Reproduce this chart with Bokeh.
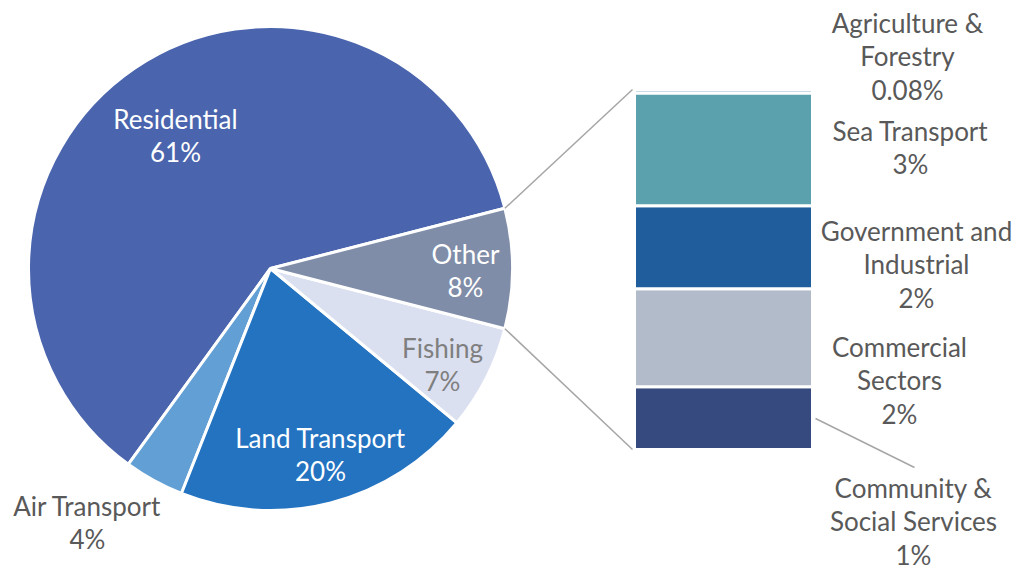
import numpy as np
from bokeh.plotting import figure
from bokeh.models import Range1d
from bokeh.core.properties import value
from bokeh.embed import file_html
from bokeh.resources import INLINE

# ---------------- data ----------------
pie_names = ["Residential", "Air Transport", "Land Transport", "Fishing", "Other"]
pie_values = [61, 4, 20, 7, 8]
pie_labels = ["61%", "4%", "20%", "7%", "8%"]
pie_colors = ["#4a65ae", "#619fd4", "#2473c1", "#dbe0f0", "#7f8da8"]

bar_names = ["Community &\nSocial Services", "Commercial\nSectors", "Government and\nIndustrial",
             "Sea Transport", "Agriculture &\nForestry"]
bar_values = [1.41, 2.20, 1.86, 2.53, 0.08]
bar_labels = ["1%", "2%", "2%", "3%", "0.08%"]
bar_colors = ["#364a7f", "#b2bbca", "#1f5d9c", "#5aa1ad", "#9fb6c9"]

# ---------------- layout ----------------
W, H = 1016, 570
def S(sx, sy):
    # reference screen pixel -> data coordinate
    return sx, H - sy

CX, CY = S(270, 268)
R = 242
BAR_X0, BAR_X1 = S(634, 0)[0], S(812, 0)[0]
BAR_BOTTOM = S(0, 449)[1]
BAR_TOP = S(0, 89)[1]

FONT = value("Lato")
FS = "26px"
LINE = 33.5
DY = -2

p = figure(width=W, height=H, x_range=Range1d(0, W), y_range=Range1d(0, H),
           output_backend="svg", toolbar_location=None, min_border=0)
p.axis.visible = False
p.grid.visible = False
p.outline_line_color = None
p.background_fill_color = "white"

# ---------------- pie ----------------
vals = np.array(pie_values, dtype=float)
fr = vals / vals.sum()
start0 = fr[-1] * np.pi  # "Other" centered on 0 rad
ends = start0 + np.cumsum(fr) * 2 * np.pi
starts = ends - fr * 2 * np.pi
p.wedge(x=CX, y=CY, radius=R, start_angle=starts, end_angle=ends,
        fill_color=pie_colors, line_color="white", line_width=3)

# ---------------- bar ----------------
bv = np.array(bar_values)
scale = (BAR_TOP - BAR_BOTTOM) / bv.sum()
tops = BAR_BOTTOM + np.cumsum(bv) * scale
bottoms = tops - bv * scale
p.quad(left=BAR_X0, right=BAR_X1, bottom=bottoms, top=tops,
       fill_color=bar_colors, line_color="white", line_width=3)

# connector lines
o_start, o_end = starts[-1], ends[-1]
for ang, by in [(o_end, BAR_TOP), (o_start, BAR_BOTTOM)]:
    p.line([CX + R * np.cos(ang), BAR_X0 - 2], [CY + R * np.sin(ang), by],
           line_color="#a6a6a6", line_width=1.5)

# community leader line
p.line([S(815, 0)[0], S(914, 0)[0]], [S(0, 418)[1], S(0, 467)[1]],
       line_color="#a6a6a6", line_width=1.5)

# ---------------- labels ----------------
def label(lines, sx, sy_first, color):
    xs, ys = [], []
    for i, _ in enumerate(lines):
        x, y = S(sx, sy_first + DY + i * LINE)
        xs.append(x); ys.append(y)
    p.text(x=xs, y=ys, text=lines, text_font=FONT, text_font_size=FS,
           text_color=color, text_align="center", text_baseline="middle")

pie_pos = [(175, 120, "white"), (87, 507, "#595959"), (320, 439, "white"),
           (442, 349, "#7f7f7f"), (465, 255, "white")]
for name, lab, (sx, sy, col) in zip(pie_names, pie_labels, pie_pos):
    label(name.split("\n") + [lab], sx, sy, col)

bar_pos = [(913, 489), (899, 348), (916, 232), (910, 132), (907, 24)]
for name, lab, (sx, sy) in zip(bar_names, bar_labels, bar_pos):
    label(name.split("\n") + [lab], sx, sy, "#595959")

open("out.html", "w").write(file_html(p, INLINE))
